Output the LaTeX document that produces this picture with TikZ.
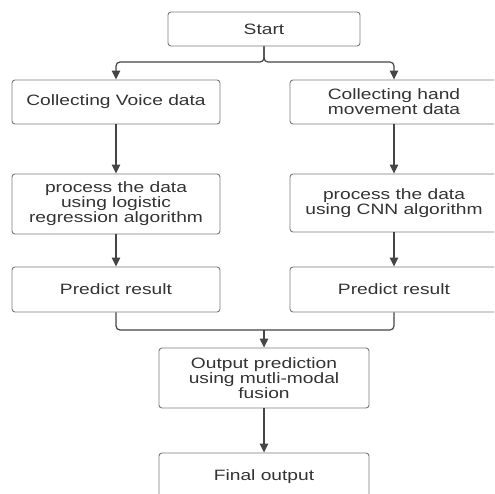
\documentclass[tikz,border=0pt]{standalone}
\usepackage{fontspec}
\usetikzlibrary{arrows.meta, positioning}
\newfontfamily\boxfont[FakeStretch=1.28]{Liberation Sans}
\definecolor{boxgray}{HTML}{7A7A7A}
\definecolor{linegray}{HTML}{454545}
\definecolor{textgray}{HTML}{333333}
\tikzset{
    box/.style={rectangle, draw=boxgray, line width=0.9pt, fill=white, rounded corners=3pt, align=center, inner sep=0pt, text=textgray, font=\boxfont\fontsize{15}{15}\selectfont},
    arrow/.style={-{Triangle[length=9pt, width=8.5pt]}, line width=1.2pt, draw=linegray, rounded corners=4pt},
    joinline/.style={line width=1.2pt, draw=linegray, rounded corners=4pt}
}
\begin{document}
\begin{tikzpicture}[x=1pt, y=1pt]
    \useasboundingbox (0,0) rectangle (494,-494);
    \clip (0,0) rectangle (494,-494);
    \fill[white] (0,0) rectangle (494,-494);
    % boxes
    \node[box, minimum width=192pt, minimum height=34pt] (start) at (264,-29) {Start};
    \node[box, minimum width=208pt, minimum height=44pt] (voice) at (116,-102) {Collecting Voice data};
    \node[box, minimum width=208pt, minimum height=44pt] (hand) at (394,-102) {Collecting hand\\movement data};
    \node[box, minimum width=208pt, minimum height=60pt] (procL) at (116,-204) {process the data\\using logistic\\regression algorithm};
    \node[box, minimum width=208pt, minimum height=58pt] (procR) at (394,-203) {process the data\\using CNN algorithm};
    \node[box, minimum width=208pt, minimum height=45pt] (predL) at (116,-289.5) {Predict result};
    \node[box, minimum width=208pt, minimum height=45pt] (predR) at (394,-289.5) {Predict result};
    \node[box, minimum width=210pt, minimum height=60pt] (fusion) at (264,-378) {Output prediction\\using mutli-modal\\fusion};
    \node[box, minimum width=210pt, minimum height=45pt, text depth=0pt] (final) at (264,-475.5) {Final output};
    \coordinate (split) at (264,-62);
    \coordinate (merge) at (264,-330);
    % connectors
    \draw[arrow] (start.south) -- (split) -| (voice.north);
    \draw[arrow] (start.south) -- (split) -| (hand.north);
    \draw[arrow] (voice) -- (procL);
    \draw[arrow] (hand) -- (procR);
    \draw[arrow] (procL) -- (predL);
    \draw[arrow] (procR) -- (predR);
    \draw[joinline] (predL.south) |- (merge);
    \draw[joinline] (predR.south) |- (merge);
    \draw[arrow] (merge) -- (fusion.north);
    \draw[arrow] (fusion) -- (final);
\end{tikzpicture}
\end{document}
